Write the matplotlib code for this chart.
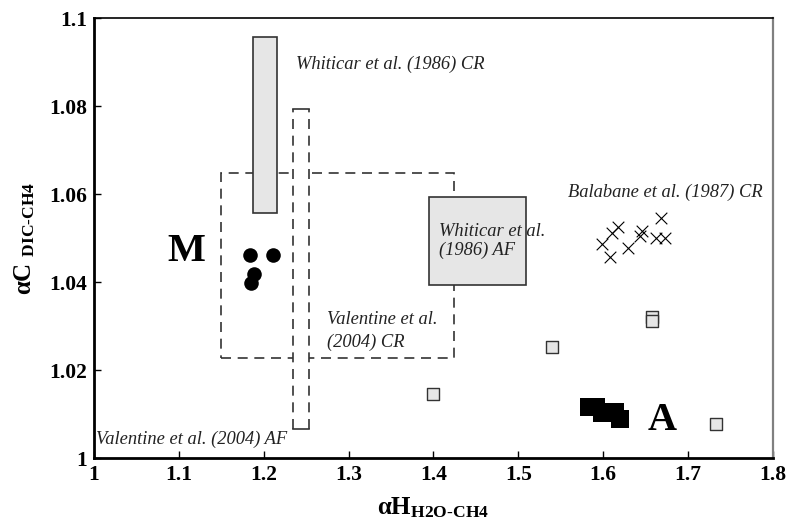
import matplotlib
matplotlib.use("Agg")
import matplotlib.pyplot as plt
from matplotlib.patches import Rectangle

plt.rcParams['font.family'] = ['Liberation Serif', 'DejaVu Serif']
plt.rcParams['mathtext.fontset'] = 'custom'
plt.rcParams['mathtext.rm'] = 'Liberation Serif:bold'
plt.rcParams['mathtext.bf'] = 'Liberation Serif:bold'
plt.rcParams['mathtext.it'] = 'Liberation Serif:bold:italic'

# methanogenic (M) samples
m_x = [1.184, 1.211, 1.189, 1.185]
m_y = [1.0462, 1.0462, 1.0419, 1.0398]

# Balabane et al. (1987) CR
bal_x = [1.668, 1.618, 1.610, 1.599, 1.608, 1.629, 1.646, 1.643, 1.662, 1.673]
bal_y = [1.0547, 1.0526, 1.0511, 1.0487, 1.0458, 1.0479, 1.0517, 1.0505, 1.0500, 1.0500]

# grey squares
sq_x = [1.399, 1.540, 1.658, 1.658, 1.733]
sq_y = [1.0146, 1.0252, 1.0322, 1.0311, 1.0078]

# anaerobic (A) samples
a_x = [1.584, 1.592, 1.599, 1.607, 1.614, 1.620]
a_y = [1.0116, 1.0116, 1.0104, 1.0106, 1.0106, 1.0089]

# literature ranges: (x0, x1, y0, y1)
whiticar_cr = (1.187, 1.216, 1.0558, 1.0958)
whiticar_af = (1.395, 1.509, 1.0394, 1.0593)
valentine_cr = (1.150, 1.424, 1.0229, 1.0648)
valentine_af = (1.235, 1.253, 1.0066, 1.0795)

fig = plt.figure(figsize=(7.88, 5.23), dpi=100)
ax = fig.add_axes([0.1193, 0.1237, 0.8613, 0.8413])


def box(r, **kw):
    x0, x1, y0, y1 = r
    p = Rectangle((x0, y0), x1 - x0, y1 - y0, **kw)
    ax.add_patch(p)
    return p


# Valentine CR: dashed outline
box(valentine_cr, fill=False, ec='#333333', lw=1.2, ls=(0, (6, 4)), zorder=2)
# Valentine AF: white strip, dashed sides and solid ends
x0, x1, y0, y1 = valentine_af
box(valentine_af, fc='white', ec='none', zorder=3)
ax.plot([x0, x0], [y0, y1], color='#333333', lw=1.2, ls=(0, (6, 4)), zorder=4)
ax.plot([x1, x1], [y0, y1], color='#333333', lw=1.2, ls=(0, (6, 4)), zorder=4)
ax.plot([x0, x1], [y0, y0], color='#333333', lw=1.2, zorder=4)
ax.plot([x0, x1], [y1, y1], color='#333333', lw=1.2, zorder=4)
# Whiticar boxes
box(whiticar_cr, fc='#e6e6e6', ec='#333333', lw=1.2, zorder=5)
box(whiticar_af, fc='#e6e6e6', ec='#333333', lw=1.2, zorder=5)

ax.scatter(m_x, m_y, s=110, c='black', marker='o', zorder=6, linewidths=0)
ax.scatter(bal_x, bal_y, s=70, c='black', marker='x', linewidths=0.8, zorder=6)
ax.scatter(sq_x, sq_y, s=85, marker='s', facecolor='#e6e6e6', edgecolor='#333333',
           linewidths=1.0, zorder=6)
ax.scatter(a_x, a_y, s=160, marker='s', c='black', linewidths=0, zorder=6)

lab = dict(style='italic', fontsize=13.3, color='#222222', zorder=7)
ax.text(1.238, 1.0895, 'Whiticar et al. (1986) CR', va='center', **lab)
ax.text(1.559, 1.0605, 'Balabane et al. (1987) CR', va='center', **lab)
ax.text(1.407, 1.0494, 'Whiticar et al.\n(1986) AF', va='center', linespacing=1.15, **lab)
ax.text(1.275, 1.0290, 'Valentine et al.\n(2004) CR', va='center', linespacing=1.45, **lab)
ax.text(1.002, 1.0042, 'Valentine et al. (2004) AF', va='center', **lab)

ax.text(1.1085, 1.0469, 'M', fontsize=29, fontweight='bold', ha='center', va='center')
ax.text(1.670, 1.0085, 'A', fontsize=29, fontweight='bold', ha='center', va='center')

ax.set_xlim(1, 1.8)
ax.set_ylim(1, 1.1)
ax.set_xticks([1, 1.1, 1.2, 1.3, 1.4, 1.5, 1.6, 1.7, 1.8])
ax.set_xticklabels(['1', '1.1', '1.2', '1.3', '1.4', '1.5', '1.6', '1.7', '1.8'])
ax.set_yticks([1, 1.02, 1.04, 1.06, 1.08, 1.1])
ax.set_yticklabels(['1', '1.02', '1.04', '1.06', '1.08', '1.1'])
ax.tick_params(direction='in', length=5, width=1.0, labelsize=15.5, pad=5,
               top=False, right=False)
for t in ax.get_xticklabels() + ax.get_yticklabels():
    t.set_fontweight('bold')

for s in ['left', 'bottom']:
    ax.spines[s].set_linewidth(2.0)
ax.spines['top'].set_linewidth(1.2)
ax.spines['right'].set_linewidth(1.6)
ax.spines['right'].set_color('#808080')

ax.set_xlabel(r'$\mathrm{αH_{H2O‐CH4}}$', fontsize=18, labelpad=7)
ax.set_ylabel(r'$\mathrm{αC\ _{DIC‐CH4}}$', fontsize=18, labelpad=9)

fig.savefig('out.png', dpi=100)
